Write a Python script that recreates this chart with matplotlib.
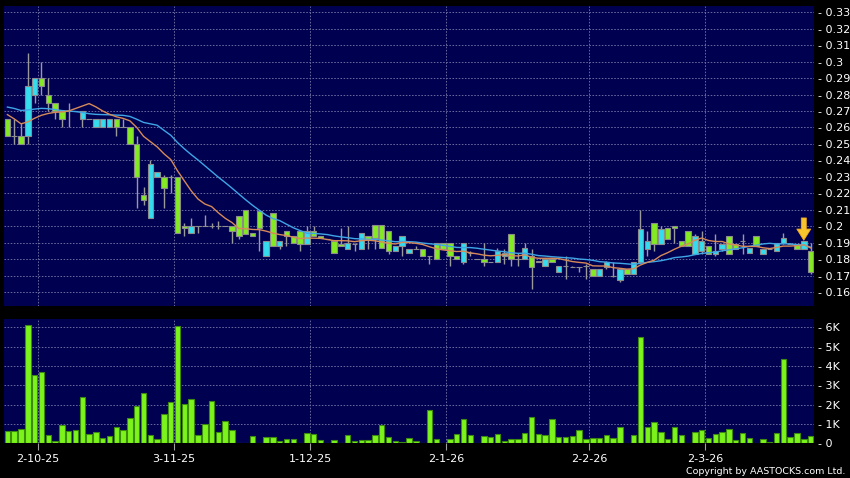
import numpy as np
import pandas as pd
import matplotlib
matplotlib.use("Agg")
import matplotlib.pyplot as plt

# daily candles, oldest first (price in HKD, volume in thousands)
opens = [0.265, 0.255, 0.255, 0.255, 0.280, 0.290, 0.280, 0.275, 0.270, 0.270,
         0.270, 0.265, 0.265, 0.260, 0.260, 0.260, 0.265, 0.260, 0.260, 0.250,
         0.219, 0.205, 0.230, 0.230, 0.230, 0.230, 0.200, 0.196, 0.200, 0.200,
         0.200, 0.200, 0.200, 0.200, 0.206, 0.210, 0.196, 0.209, 0.182, 0.208,
         0.188, 0.197, 0.194, 0.197, 0.189, 0.197, 0.194, 0.192, 0.191, 0.189,
         0.186, 0.189, 0.186, 0.194, 0.201, 0.201, 0.197, 0.185, 0.188, 0.184,
         0.186, 0.186, 0.182, 0.190, 0.190, 0.190, 0.182, 0.178, 0.184, 0.180,
         0.180, 0.178, 0.178, 0.182, 0.195, 0.180, 0.180, 0.182, 0.179, 0.176,
         0.180, 0.172, 0.176, 0.175, 0.175, 0.176, 0.174, 0.170, 0.175, 0.170,
         0.167, 0.174, 0.171, 0.178, 0.186, 0.202, 0.189, 0.199, 0.200, 0.191,
         0.197, 0.183, 0.185, 0.188, 0.183, 0.186, 0.194, 0.189, 0.191, 0.184,
         0.194, 0.183, 0.186, 0.185, 0.190, 0.189, 0.189, 0.186, 0.185]
highs = [0.265, 0.265, 0.263, 0.305, 0.290, 0.300, 0.290, 0.275, 0.270, 0.275,
         0.270, 0.270, 0.265, 0.265, 0.265, 0.265, 0.265, 0.265, 0.260, 0.255,
         0.224, 0.240, 0.233, 0.231, 0.231, 0.230, 0.202, 0.205, 0.200, 0.207,
         0.202, 0.203, 0.200, 0.200, 0.206, 0.210, 0.196, 0.209, 0.191, 0.208,
         0.191, 0.197, 0.194, 0.197, 0.200, 0.200, 0.194, 0.192, 0.191, 0.199,
         0.200, 0.190, 0.196, 0.194, 0.201, 0.201, 0.197, 0.188, 0.194, 0.186,
         0.188, 0.186, 0.182, 0.190, 0.190, 0.190, 0.182, 0.190, 0.185, 0.180,
         0.190, 0.178, 0.187, 0.186, 0.195, 0.184, 0.190, 0.186, 0.179, 0.180,
         0.180, 0.176, 0.182, 0.176, 0.175, 0.177, 0.174, 0.174, 0.179, 0.178,
         0.174, 0.174, 0.178, 0.210, 0.197, 0.202, 0.200, 0.199, 0.200, 0.191,
         0.197, 0.195, 0.197, 0.188, 0.195, 0.189, 0.194, 0.189, 0.195, 0.187,
         0.194, 0.186, 0.187, 0.190, 0.196, 0.190, 0.189, 0.191, 0.190]
lows = [0.255, 0.250, 0.250, 0.250, 0.275, 0.280, 0.270, 0.265, 0.260, 0.260,
        0.270, 0.260, 0.265, 0.260, 0.260, 0.260, 0.255, 0.260, 0.250, 0.211,
        0.213, 0.205, 0.230, 0.211, 0.220, 0.196, 0.194, 0.196, 0.196, 0.200,
        0.199, 0.198, 0.200, 0.190, 0.192, 0.195, 0.194, 0.185, 0.182, 0.188,
        0.186, 0.188, 0.190, 0.185, 0.189, 0.194, 0.193, 0.192, 0.184, 0.188,
        0.186, 0.185, 0.186, 0.186, 0.186, 0.187, 0.183, 0.185, 0.182, 0.184,
        0.186, 0.182, 0.177, 0.180, 0.186, 0.176, 0.180, 0.177, 0.182, 0.180,
        0.176, 0.178, 0.178, 0.177, 0.176, 0.176, 0.180, 0.162, 0.178, 0.176,
        0.178, 0.172, 0.168, 0.175, 0.172, 0.168, 0.170, 0.170, 0.174, 0.169,
        0.166, 0.171, 0.171, 0.178, 0.182, 0.185, 0.189, 0.192, 0.190, 0.188,
        0.188, 0.183, 0.183, 0.183, 0.182, 0.185, 0.183, 0.186, 0.183, 0.184,
        0.188, 0.183, 0.186, 0.185, 0.189, 0.189, 0.186, 0.186, 0.171]
closes = [0.255, 0.255, 0.250, 0.285, 0.290, 0.285, 0.275, 0.270, 0.265, 0.270,
          0.270, 0.270, 0.265, 0.265, 0.265, 0.265, 0.260, 0.260, 0.250, 0.230,
          0.216, 0.238, 0.233, 0.223, 0.230, 0.196, 0.199, 0.200, 0.200, 0.200,
          0.200, 0.200, 0.200, 0.197, 0.194, 0.195, 0.194, 0.199, 0.191, 0.188,
          0.191, 0.194, 0.190, 0.189, 0.197, 0.194, 0.193, 0.192, 0.184, 0.188,
          0.190, 0.189, 0.196, 0.192, 0.193, 0.187, 0.185, 0.188, 0.194, 0.186,
          0.186, 0.182, 0.182, 0.180, 0.186, 0.182, 0.180, 0.190, 0.184, 0.180,
          0.178, 0.178, 0.185, 0.184, 0.180, 0.180, 0.187, 0.175, 0.178, 0.180,
          0.178, 0.176, 0.176, 0.175, 0.175, 0.176, 0.170, 0.174, 0.178, 0.170,
          0.174, 0.171, 0.178, 0.198, 0.191, 0.189, 0.198, 0.192, 0.199, 0.188,
          0.188, 0.194, 0.191, 0.183, 0.185, 0.189, 0.183, 0.186, 0.191, 0.187,
          0.188, 0.186, 0.186, 0.190, 0.193, 0.189, 0.186, 0.191, 0.172]
volumes = [0.65, 0.65, 0.72, 6.10, 3.53, 3.70, 0.43, 0.12, 0.95, 0.65,
           0.67, 2.38, 0.48, 0.57, 0.29, 0.39, 0.83, 0.69, 1.29, 1.95,
           2.59, 0.43, 0.21, 1.52, 2.12, 6.07, 2.03, 2.31, 0.41, 0.99,
           2.20, 0.58, 1.14, 0.68, 0.04, 0.04, 0.38, 0.02, 0.34, 0.32,
           0.13, 0.20, 0.20, 0.03, 0.52, 0.48, 0.17, 0.03, 0.17, 0.03,
           0.43, 0.14, 0.17, 0.17, 0.43, 0.95, 0.31, 0.14, 0.09, 0.26,
           0.12, 0.03, 1.72, 0.24, 0.03, 0.24, 0.46, 1.26, 0.43, 0.03,
           0.39, 0.34, 0.48, 0.14, 0.24, 0.24, 0.55, 1.34, 0.48, 0.43,
           1.26, 0.34, 0.34, 0.38, 0.69, 0.21, 0.29, 0.29, 0.43, 0.26,
           0.83, 0.03, 0.43, 5.48, 0.83, 1.09, 0.57, 0.21, 0.86, 0.43,
           0.03, 0.57, 0.69, 0.29, 0.48, 0.58, 0.74, 0.17, 0.52, 0.29,
           0.03, 0.22, 0.09, 0.55, 4.34, 0.34, 0.52, 0.21, 0.38]

# closes before the first visible candle, only used to seed the averages
prior_closes = [0.272, 0.275, 0.278, 0.280, 0.276, 0.279, 0.281, 0.277, 0.276, 0.276,
                0.281, 0.280, 0.273, 0.268, 0.267, 0.264, 0.263, 0.263, 0.264]

month_starts = [5, 25, 45, 65, 86, 103]
month_labels = ["2-10-25", "3-11-25", "1-12-25", "2-1-26", "2-2-26", "2-3-26"]
price_ticks = [0.16, 0.17, 0.18, 0.19, 0.20, 0.21, 0.22, 0.23, 0.24,
               0.25, 0.26, 0.27, 0.28, 0.29, 0.30, 0.31, 0.32, 0.33]
vol_ticks = [0, 1, 2, 3, 4, 5, 6]
vol_labels = ["0", "1K", "2K", "3K", "4K", "5K", "6K"]
marked_day = 117

BG = "#000050"
GRID = "#6a6aa0"
DASH = (0, (1.6, 1.6))
UP = "#33dcee"
DOWN = "#84ea22"
FLAT = "#9a9a9a"

o = np.array(opens)
h = np.array(highs)
l = np.array(lows)
c = np.array(closes)
x = np.arange(len(c))

s = pd.Series(prior_closes + closes)
ma10 = s.rolling(10).mean().iloc[len(prior_closes):].to_numpy()
ma20 = s.rolling(20).mean().iloc[len(prior_closes):].to_numpy()

fig = plt.figure(figsize=(8.5, 4.78), dpi=100, facecolor="black")
ax = fig.add_axes([4 / 850, 1 - 306 / 478, 810 / 850, 300 / 478])
axv = fig.add_axes([4 / 850, 1 - 443.3 / 478, 810 / 850, 124.3 / 478])

for a in (ax, axv):
    a.set_facecolor(BG)
    for sp in a.spines.values():
        sp.set_visible(False)
    a.set_xlim(-0.5, len(c) - 0.5)
    for m in month_starts:
        a.axvline(m - 0.5, color=GRID, lw=0.7, ls=DASH, zorder=1)
    a.yaxis.tick_right()
    a.tick_params(axis="y", length=0, pad=3, labelsize=8, labelcolor="white")

# price panel
for p in price_ticks:
    ax.axhline(p, color=GRID, lw=0.7, ls=DASH, zorder=1)
ax.vlines(x, l, h, color=FLAT, lw=1, zorder=2)
colors = [UP if cc > oo else DOWN if cc < oo else FLAT for oo, cc in zip(o, c)]
ax.bar(x, np.abs(c - o), bottom=np.minimum(o, c), width=0.8, color=colors,
       edgecolor="#8c8c8c", linewidth=0.8, zorder=3)
ax.plot(x, ma20, color="#3fa6e6", lw=1, zorder=4)
ax.plot(x, ma10, color="#d68a58", lw=1, zorder=4)
ax.annotate("", xy=(marked_day, h[marked_day] + 0.0005),
            xytext=(marked_day, h[marked_day] + 0.014),
            arrowprops=dict(facecolor="#f7c42e", edgecolor="#f0a818", width=3.6,
                            headwidth=10, headlength=8, lw=0.6), zorder=5)
ax.set_ylim(0.1515, 0.3338)
ax.set_yticks(price_ticks)
ax.set_yticklabels(["- %g" % p for p in price_ticks])
ax.set_xticks([])

# volume panel
for v in vol_ticks[1:]:
    axv.axhline(v, color=GRID, lw=0.7, ls=DASH, zorder=1)
axv.bar(x, volumes, width=0.8, color="#7cf41c", edgecolor="#3c8a10",
        linewidth=0.8, zorder=3)
axv.set_ylim(0, 6.43)
axv.set_yticks(vol_ticks)
axv.set_yticklabels(["- " + t for t in vol_labels])
axv.set_xticks([m - 0.5 for m in month_starts])
axv.set_xticklabels(month_labels)
axv.tick_params(axis="x", direction="out", length=5, width=0.8, color="#a0a0a0",
                pad=3, labelsize=8, labelcolor="white")

fig.text(845 / 850, 1 - 471.5 / 478, "Copyright by AASTOCKS.com Ltd.",
         ha="right", va="center", color="white", fontsize=6.8)

fig.savefig("out.png", dpi=100, facecolor="black")
